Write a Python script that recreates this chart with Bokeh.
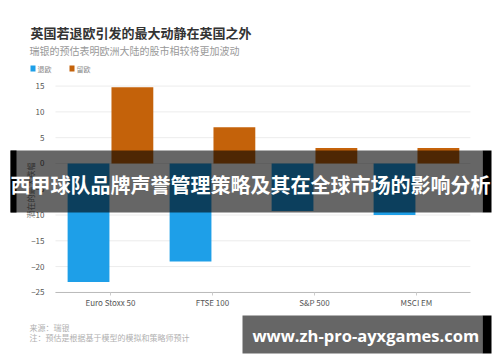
import math
from bokeh.plotting import figure
from bokeh.models import Range1d, Label, BoxAnnotation, FixedTicker, LinearAxis
from bokeh.embed import file_html
from bokeh.resources import INLINE

categories = ["Euro Stoxx 50", "FTSE 100", "S&P 500", "MSCI EM"]
leave_vals = [-23.0, -19.0, -9.2, -10.0]
remain_vals = [14.8, 7.0, 3.0, 3.0]
y_ticks = [-25, -20, -15, -10, -5, 0, 5, 10, 15]

BLUE = "#1e9fe8"
ORANGE = "#c4620a"
CJK = "Noto Sans CJK SC"

W, H = 500, 362
X_LO, X_HI = -0.539, 3.529     # plot-area extent along x
Y_LO = -25

p = figure(width=W, height=H, output_backend="svg", toolbar_location=None,
           x_range=Range1d(-1.078, 3.824), y_range=Range1d(-38.6, 31.6),
           x_axis_location=None, y_axis_location=None,
           min_border=0)
p.outline_line_color = None
p.background_fill_color = "white"
p.border_fill_color = "white"
p.grid.visible = False

idx = list(range(len(categories)))

# horizontal gridlines across the plot area
p.segment(x0=[X_LO] * len(y_ticks), x1=[X_HI] * len(y_ticks), y0=y_ticks, y1=y_ticks,
          line_color="#ececec", line_width=1)

p.vbar(x=[i - 0.215 for i in idx], top=leave_vals, bottom=0, width=0.41, color=BLUE, line_color=None)
p.vbar(x=[i + 0.215 for i in idx], top=remain_vals, bottom=0, width=0.41, color=ORANGE, line_color=None)

xaxis = LinearAxis(fixed_location=Y_LO, bounds=(X_LO, X_HI))
xaxis.ticker = FixedTicker(ticks=idx)
xaxis.major_label_overrides = {i: c for i, c in enumerate(categories)}
xaxis.axis_line_color = "#bbbbbb"
xaxis.major_tick_line_color = "#cccccc"
xaxis.major_tick_in = 0
xaxis.major_tick_out = 3
xaxis.minor_tick_line_color = None
xaxis.major_label_text_font = CJK
xaxis.major_label_text_font_size = "8px"
xaxis.major_label_text_color = "#555555"
xaxis.major_label_standoff = 2
p.add_layout(xaxis, "below")

yaxis = LinearAxis(fixed_location=X_LO, bounds=(Y_LO, 15))
yaxis.ticker = FixedTicker(ticks=y_ticks)
yaxis.axis_line_color = None
yaxis.major_tick_line_color = None
yaxis.minor_tick_line_color = None
yaxis.major_label_text_font = CJK
yaxis.major_label_text_font_size = "8px"
yaxis.major_label_text_color = "#555555"
yaxis.major_label_standoff = 5
p.add_layout(yaxis, "left")

def lab(x, y, t, size, color, style="normal", font=CJK, baseline="middle", align="left", angle=0.0):
    p.add_layout(Label(x=x, y=y, x_units="canvas", y_units="canvas", text=t,
                       text_font=font, text_font_size=size, text_color=color,
                       text_font_style=style, text_baseline=baseline, text_align=align,
                       angle=angle, level="overlay"))

def box(l, r, t, b, color, alpha):
    p.add_layout(BoxAnnotation(left=l, right=r, top=t, bottom=b, left_units="canvas", right_units="canvas",
                               top_units="canvas", bottom_units="canvas", fill_color=color,
                               fill_alpha=alpha, line_color=None, level="overlay"))

lab(30, 190, "潜在的最大跌幅", "8px", "#777777", align="center", angle=math.pi / 2)
lab(30, 32, "英国若退欧引发的最大动静在英国之外", "13px", "#333333", "bold")
lab(29, 50, "瑞银的预估表明欧洲大陆的股市相较将更加波动", "10px", "#999999")
box(30, 35, 65, 71, BLUE, 1.0)
box(69, 74, 65, 71, ORANGE, 1.0)
lab(37, 68, "退欧", "7px", "#888888")
lab(76, 68, "留欧", "7px", "#888888")
lab(29, 327, "来源：瑞银", "8px", "#b0b0b0")
lab(29, 337, "注：预估是根据基于模型的模拟和策略师预计", "8px", "#b0b0b0")

box(10, 482, 150, 212, "black", 0.6)
box(10, 16, 150, 212, "black", 1.0)
box(482, 491, 150, 212, "black", 1.0)
lab(250, 184, "西甲球队品牌声誉管理策略及其在全球市场的影响分析", "20px", "white", "bold", align="center")

box(242, 482, 315, 353, "black", 0.6)
box(482, 491, 315, 353, "black", 1.0)
lab(252, 335, "www.zh-pro-ayxgames.com", "16.5px", "white", "bold", font="Open Sans")

open("out.html", "w").write(file_html(p, INLINE))
